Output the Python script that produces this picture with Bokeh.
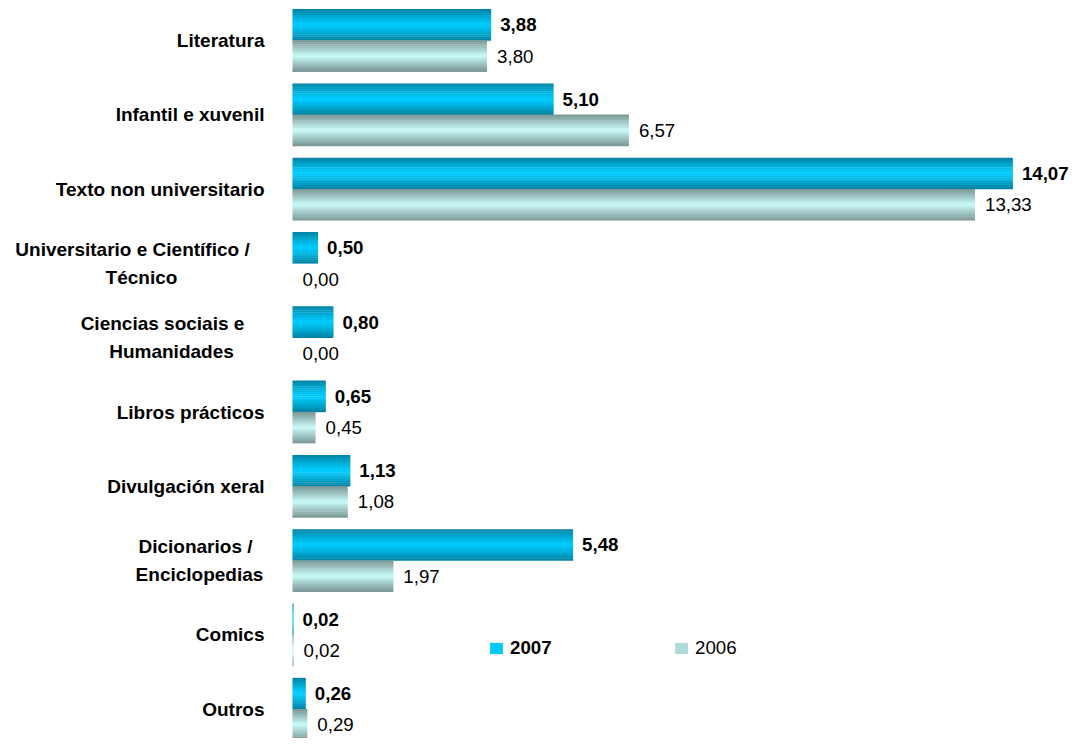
import numpy as np
from bokeh.plotting import figure
from bokeh.models import ColumnDataSource, Range1d, Legend, LegendItem
from bokeh.core.properties import value
from bokeh.embed import file_html
from bokeh.resources import INLINE

# ---------------- data ----------------
categories = [
    "Literatura",
    "Infantil e xuvenil",
    "Texto non universitario",
    "Universitario e Científico / Técnico",
    "Ciencias sociais e Humanidades",
    "Libros prácticos",
    "Divulgación xeral",
    "Dicionarios / Enciclopedias",
    "Comics",
    "Outros",
]
values_2007 = [3.88, 5.10, 14.07, 0.50, 0.80, 0.65, 1.13, 5.48, 0.02, 0.26]
values_2006 = [3.80, 6.57, 13.33, 0.00, 0.00, 0.45, 1.08, 1.97, 0.02, 0.29]
series_names = ["2007", "2006"]

# ---------------- layout / style ----------------
FONT = "Liberation Sans"
FS = "18.7px"
FS_CAT = "19px"
W, H = 1075, 738
PX_X = 51.2       # pixels per unit on x
X0_PX = 292       # frame x of value 0
ROW_PX = 74.3     # pixels per category row
ROW0_PX = 40      # frame y of the first category centre
BAR_H = 0.42      # bar thickness (in row units)
N_STRIPS = 16

# wrapped label lines and centre positions (frame px) for multi-line labels
wrap = {
    "Universitario e Científico / Técnico": (["Universitario e Científico /", "Técnico"], [132, 141]),
    "Ciencias sociais e Humanidades": (["Ciencias sociais e", "Humanidades"], [162, 171]),
    "Dicionarios / Enciclopedias": (["Dicionarios /", "Enciclopedias"], [195, 199]),
}
LABEL_RIGHT_PX = 264
LINE_GAP = 28.5

C07_EDGE, C07_MID = (0, 128, 160), (0, 204, 255)
C06_EDGE, C06_MID = (122, 150, 148), (204, 255, 255)


def mix(c1, c2, t):
    r = [int(round(a + (b - a) * t)) for a, b in zip(c1, c2)]
    return "#%02x%02x%02x" % tuple(r)


x_range = Range1d(-X0_PX / PX_X, (W - X0_PX) / PX_X)
y_range = Range1d(-(H - ROW0_PX) / ROW_PX, ROW0_PX / ROW_PX)

p = figure(width=W, height=H, x_range=x_range, y_range=y_range,
           x_axis_type=None, y_axis_type=None, output_backend="svg",
           toolbar_location=None, min_border=0)
p.outline_line_color = None
p.background_fill_color = "white"

pos = -np.arange(len(categories), dtype=float)
strip_h = BAR_H / N_STRIPS

legend_renderers = []
for vals, edge, mid, above, expo, leg_k in [
        (values_2007, C07_EDGE, C07_MID, True, 1.2, N_STRIPS // 2),
        (values_2006, C06_EDGE, C06_MID, False, 0.9, N_STRIPS // 3)]:
    top = pos + BAR_H if above else pos
    leg_r = None
    for k in range(N_STRIPS):
        t = (k + 0.5) / N_STRIPS
        d = abs(t - 0.5) * 2
        col = mix(mid, edge, d ** expo)
        src = ColumnDataSource(dict(y=top - (k + 0.5) * strip_h, right=vals))
        r = p.hbar(y="y", right="right", left=0, height=strip_h * 1.2,
                   source=src, fill_color=col, line_color=None)
        if k == leg_k:
            leg_r = r
    legend_renderers.append(leg_r)

# value labels
def fmt(v):
    return f"{v:.2f}".replace(".", ",")

lab07 = ColumnDataSource(dict(x=values_2007, y=pos + BAR_H / 2,
                              t=[fmt(v) for v in values_2007]))
lab06 = ColumnDataSource(dict(x=values_2006, y=pos - BAR_H / 2,
                              t=[fmt(v) for v in values_2006]))
p.text(x="x", y="y", text="t", source=lab07, x_offset=9, text_baseline="middle",
       text_align="left", text_font=value(FONT), text_font_size=FS,
       text_font_style="bold", text_color="black")
p.text(x="x", y="y", text="t", source=lab06, x_offset=10, text_baseline="middle",
       text_align="left", text_font=value(FONT), text_font_size=FS,
       text_color="black")

# category labels
cx, cy, ct, cxo, cyo, ca = [], [], [], [], [], []
for i, name in enumerate(categories):
    if name in wrap:
        lines, centres = wrap[name]
        n = len(lines)
        for k, (ln, c) in enumerate(zip(lines, centres)):
            cx.append(0.0); cy.append(pos[i]); ct.append(ln)
            cxo.append(c - X0_PX); cyo.append((k - (n - 1) / 2) * LINE_GAP)
            ca.append("center")
    else:
        cx.append(0.0); cy.append(pos[i]); ct.append(name)
        cxo.append(LABEL_RIGHT_PX - X0_PX); cyo.append(0.0); ca.append("right")
cat_src = ColumnDataSource(dict(x=cx, y=cy, t=ct, xo=cxo, yo=cyo, a=ca))
p.text(x="x", y="y", text="t", source=cat_src, x_offset="xo", y_offset="yo",
       text_align="a", text_baseline="middle", text_font=value(FONT),
       text_font_size=FS_CAT, text_font_style="bold", text_color="black")

# legends
for name, r, lx, style in [(series_names[0], legend_renderers[0], 488, "bold"),
                           (series_names[1], legend_renderers[1], 673, "normal")]:
    leg = Legend(items=[LegendItem(label=name, renderers=[r])], location=(lx, 79),
                 orientation="horizontal", border_line_color=None,
                 background_fill_alpha=0, padding=0, margin=0,
                 glyph_width=16, glyph_height=14, label_standoff=6,
                 label_text_font=FONT, label_text_font_size=FS,
                 label_text_font_style=style, label_text_color="black")
    p.add_layout(leg)

open("out.html", "w").write(file_html(p, INLINE))
